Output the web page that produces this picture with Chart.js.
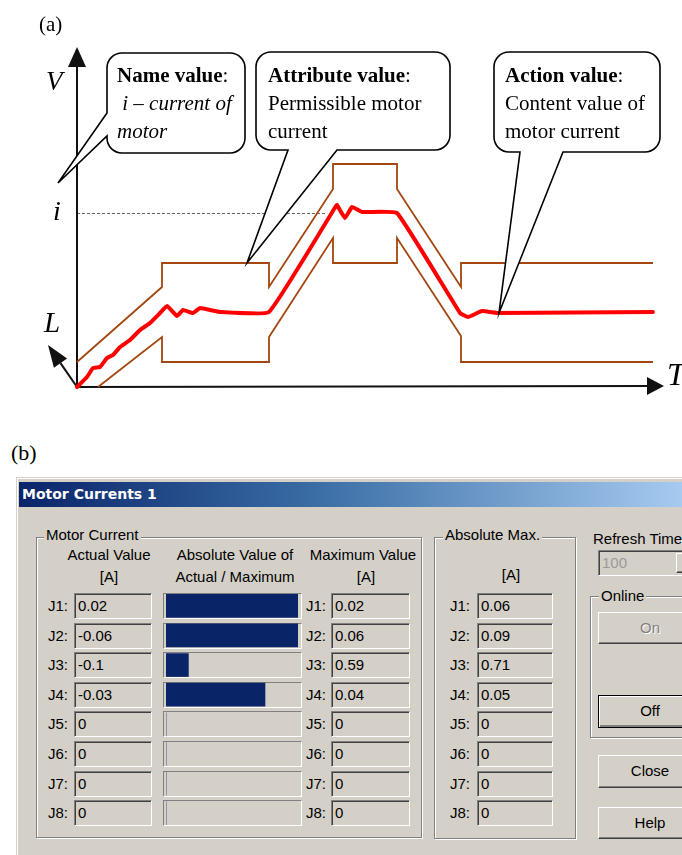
<!DOCTYPE html>
<html>
<head>
<meta charset="utf-8">
<title>Motor current monitoring</title>
<script src="https://cdn.jsdelivr.net/npm/chart.js@4.4.0/dist/chart.umd.min.js"></script>
<style>
  body { margin: 0; width: 682px; height: 855px; overflow: hidden; position: relative; background: #fff; }
  #trend { position: absolute; left: 0; top: 0; }
  .tag { position: absolute; font-family: "Liberation Serif", "Times New Roman", serif; font-size: 22px; color: #000; }
  #dialog { position: absolute; left: 16px; top: 477px; width: 700px; height: 400px; background: #d4d0c8;
            border-top: 1px solid #d4d0c8; border-left: 1px solid #d4d0c8; box-shadow: inset 1px 1px 0 #fff; }
  #titlebar { position: absolute; left: 19px; top: 482px; width: 663px; height: 25px;
              background: linear-gradient(to right, #0a246a 0%, #3a6ea5 45%, #a6caf0 100%); }
  #titlebar span { position: absolute; left: 3px; top: 4px; color: #fff; font: bold 14px "DejaVu Sans", Verdana, sans-serif; }
  .ui { position: absolute; font-family: "Liberation Sans", Arial, sans-serif; font-size: 15px; line-height: 18px; color: #000; white-space: nowrap; }
  .center { text-align: center; }
  .group { position: absolute; box-sizing: border-box; border: 1px solid #808080; box-shadow: inset 1px 1px 0 #fff, 1px 1px 0 #fff; }
  .legend { position: absolute; background: #d4d0c8; padding: 0 2px; }
  .edit { position: absolute; box-sizing: border-box; height: 26px; background: #d4d0c8;
          border-top: 1px solid #808080; border-left: 1px solid #808080; border-right: 1px solid #fff; border-bottom: 1px solid #fff;
          box-shadow: inset 1px 1px 0 #404040; padding-left: 3px; line-height: 24px; }
  .track { position: absolute; box-sizing: border-box; height: 26px; width: 139px;
           border-top: 1px solid #808080; border-left: 1px solid #808080; border-right: 1px solid #fff; border-bottom: 1px solid #fff; }
  .btn { position: absolute; box-sizing: border-box; width: 104px; text-align: center; background: #d4d0c8;
         border-top: 1px solid #fff; border-left: 1px solid #fff; border-right: 1px solid #404040; border-bottom: 1px solid #404040;
         box-shadow: inset -1px -1px 0 #808080; }
  .btn.default { border: 1px solid #000; box-shadow: inset 1px 1px 0 #fff, inset -2px -2px 0 #808080; }
  .btn.disabled { color: #808080; text-shadow: 1px 1px 0 #fff; }
  #ratioBars { position: absolute; left: 166px; top: 591px; }
</style>
</head>
<body>
<canvas id="trend" width="682" height="400"></canvas>

<div class="tag" style="left:11px; top:440px;">(b)</div>
<div id="dialog"></div>
<div id="titlebar"><span>Motor Currents 1</span></div>
<div id="panel"></div>
<canvas id="ratioBars" width="132" height="237"></canvas>

<script>
// ---- (a) current trend inside the permissible envelope ----
// T and V in plot units (one unit = 10 px on screen)
const upperT = [0, 8.5, 8.5, 19.2, 19.2, 25.6, 25.6, 32, 32, 38.4, 38.4, 57.6];
const upperV = [2.5, 10.0, 12.4, 12.4, 10.0, 19.8, 22.3, 22.3, 19.8, 10.0, 12.4, 12.4];
const lowerT = [2.1, 8.5, 8.5, 19.2, 19.2, 25.6, 25.6, 32, 32, 38.4, 38.4, 57.6];
const lowerV = [0, 5.0, 2.5, 2.5, 5.0, 14.9, 12.4, 12.4, 14.9, 5.1, 2.5, 2.5];
const currentT = [0, 1.0, 1.6, 2.3, 3.0, 3.6, 4.3, 5.3, 6.3, 7.3, 8.3, 9.0, 10.0, 10.6, 11.6, 12.3, 14.3, 19.2,
                  25.9, 26.0, 26.8, 27.5, 28.5, 32.0, 38.3, 39.1, 40.5, 42.1, 57.6];
const currentV = [0, 1.0, 1.9, 2.0, 2.9, 3.2, 4.0, 4.7, 5.7, 6.4, 7.4, 8.1, 7.1, 7.7, 7.4, 7.9, 7.5, 7.5,
                  18.1, 18.2, 16.9, 18.0, 17.5, 17.4, 7.4, 7.0, 7.6, 7.4, 7.5];
const iLevel = 17.4;
const iGuideEnd = 24.8;

// ---- (b) dialog values ----
const joints = ['J1', 'J2', 'J3', 'J4', 'J5', 'J6', 'J7', 'J8'];
const actualValues = [0.02, -0.06, -0.1, -0.03, 0, 0, 0, 0];
const maximumValues = [0.02, 0.06, 0.59, 0.04, 0, 0, 0, 0];
const absoluteMax = [0.06, 0.09, 0.71, 0.05, 0, 0, 0, 0];
const refreshTime = 100;

const toPoints = (ts, vs) => ts.map((t, i) => ({ x: t, y: vs[i] }));
const serif = '"Liberation Serif", "Times New Roman", serif';
const envelopeColor = '#a3460f';

function drawArrow(ctx, x1, y1, x2, y2, headLen, halfW) {
  const a = Math.atan2(y2 - y1, x2 - x1);
  const bx = x2 - headLen * Math.cos(a), by = y2 - headLen * Math.sin(a);
  ctx.beginPath();
  ctx.moveTo(x1, y1);
  ctx.lineTo(bx, by);
  ctx.stroke();
  ctx.beginPath();
  ctx.moveTo(x2, y2);
  ctx.lineTo(bx + halfW * Math.sin(a), by - halfW * Math.cos(a));
  ctx.lineTo(bx - halfW * Math.sin(a), by + halfW * Math.cos(a));
  ctx.closePath();
  ctx.fill();
}

// rounded speech bubble; tail leaves the bottom or the left side
function drawCallout(ctx, box, tail, lines, textX) {
  const { x, y, w, h, r } = box;
  ctx.beginPath();
  ctx.moveTo(x + r, y);
  ctx.lineTo(x + w - r, y);
  ctx.arcTo(x + w, y, x + w, y + r, r);
  ctx.lineTo(x + w, y + h - r);
  ctx.arcTo(x + w, y + h, x + w - r, y + h, r);
  if (tail.side === 'bottom') {
    ctx.lineTo(tail.b, y + h);
    ctx.lineTo(tail.tipX, tail.tipY);
    ctx.lineTo(tail.a, y + h);
  }
  ctx.lineTo(x + r, y + h);
  ctx.arcTo(x, y + h, x, y + h - r, r);
  if (tail.side === 'left') {
    ctx.lineTo(x, tail.b);
    ctx.lineTo(tail.tipX, tail.tipY);
    ctx.lineTo(x, tail.a);
  }
  ctx.lineTo(x, y + r);
  ctx.arcTo(x, y, x + r, y, r);
  ctx.closePath();
  ctx.fillStyle = '#fff';
  ctx.fill();
  ctx.strokeStyle = '#000';
  ctx.lineWidth = 1.6;
  ctx.stroke();

  ctx.fillStyle = '#000';
  ctx.textBaseline = 'alphabetic';
  const baselines = [82, 110, 138];
  lines.forEach((segs, i) => {
    let cx = textX;
    segs.forEach(s => {
      ctx.font = s.font;
      ctx.fillText(s.text, cx, baselines[i]);
      cx += ctx.measureText(s.text).width;
    });
  });
}

const figureOverlay = {
  id: 'figureOverlay',
  beforeDatasetsDraw(chart) {
    const { ctx, chartArea, scales: { x, y } } = chart;
    const x0 = x.getPixelForValue(0), y0 = y.getPixelForValue(0);
    ctx.save();
    // dashed guide at the i level
    const yi = Math.round(y.getPixelForValue(iLevel)) + 0.5;
    ctx.strokeStyle = '#666';
    ctx.lineWidth = 1;
    ctx.setLineDash([3, 2]);
    ctx.beginPath();
    ctx.moveTo(x0, yi);
    ctx.lineTo(x.getPixelForValue(iGuideEnd), yi);
    ctx.stroke();
    ctx.setLineDash([]);
    // axes
    ctx.strokeStyle = '#111';
    ctx.fillStyle = '#111';
    ctx.lineWidth = 2;
    drawArrow(ctx, x0, y0, x0, chartArea.top, 20, 9);
    drawArrow(ctx, x0, y0, x.getPixelForValue(58.7), y0 - 1, 17, 9);
    drawArrow(ctx, x0, y0, x0 - 29, y0 - 42, 22, 8);
    ctx.restore();
  },
  afterDatasetsDraw(chart) {
    const { ctx, scales: { x, y } } = chart;
    ctx.save();
    ctx.fillStyle = '#000';
    ctx.font = '21px ' + serif;
    ctx.fillText('(a)', 39, 31);
    ctx.font = 'italic 27px ' + serif;
    ctx.fillText('V', 46, 90);
    ctx.font = 'italic 28px ' + serif;
    ctx.fillText('i', 53, 220);
    ctx.font = 'italic 29px ' + serif;
    ctx.fillText('L', 44, 332);
    ctx.font = 'italic 32px ' + serif;
    ctx.fillText('T', 667, 385);

    const bold = 'bold 21px ' + serif, plain = '21px ' + serif, ital = 'italic 21px ' + serif;
    drawCallout(ctx, { x: 107, y: 53, w: 138, h: 100, r: 15 },
      { side: 'left', a: 113, b: 136, tipX: 58, tipY: 183 },
      [[{ text: 'Name value', font: bold }, { text: ':', font: plain }],
       [{ text: ' i – current of', font: ital }],
       [{ text: 'motor', font: ital }]], 117);
    drawCallout(ctx, { x: 256, y: 52, w: 194, h: 98, r: 15 },
      { side: 'bottom', a: 288, b: 337, tipX: x.getPixelForValue(17.0), tipY: y.getPixelForValue(12.4) },
      [[{ text: 'Attribute value', font: bold }, { text: ':', font: plain }],
       [{ text: 'Permissible motor', font: plain }],
       [{ text: 'current', font: plain }]], 268);
    drawCallout(ctx, { x: 494, y: 52, w: 166, h: 100, r: 15 },
      { side: 'bottom', a: 520, b: 563, tipX: x.getPixelForValue(42.2), tipY: y.getPixelForValue(7.4) },
      [[{ text: 'Action value', font: bold }, { text: ':', font: plain }],
       [{ text: 'Content value of', font: plain }],
       [{ text: 'motor current', font: plain }]], 505);
    ctx.restore();
  }
};

new Chart(document.getElementById('trend'), {
  type: 'line',
  data: {
    datasets: [
      { label: 'Upper limit', data: toPoints(upperT, upperV), borderColor: envelopeColor, borderWidth: 1.8, tension: 0, clip: false },
      { label: 'Lower limit', data: toPoints(lowerT, lowerV), borderColor: envelopeColor, borderWidth: 1.8, tension: 0, clip: false },
      { label: 'Motor current', data: toPoints(currentT, currentV), borderColor: '#ff0000', borderWidth: 4,
        tension: 0.1, borderJoinStyle: 'round', borderCapStyle: 'round', clip: false }
    ]
  },
  options: {
    responsive: false,
    animation: false,
    devicePixelRatio: 1,
    layout: { padding: { left: 77, right: 15, top: 47, bottom: 13 } },
    elements: { point: { radius: 0 } },
    scales: {
      x: { type: 'linear', min: 0, max: 59, display: false },
      y: { min: 0, max: 34, display: false }
    },
    plugins: { legend: { display: false }, tooltip: { enabled: false } }
  },
  plugins: [figureOverlay]
});

// ---- (b) dialog layout ----
const panel = document.getElementById('panel');
function add(cls, style, text) {
  const d = document.createElement('div');
  d.className = cls;
  d.setAttribute('style', style);
  if (text !== undefined) d.textContent = text;
  panel.appendChild(d);
  return d;
}

add('group', 'left:36px; top:537px; width:386px; height:301px;');
add('ui legend', 'left:44px; top:526px;', 'Motor Current');
add('group', 'left:434px; top:537px; width:142px; height:302px;');
add('ui legend', 'left:443px; top:526px;', 'Absolute Max.');
add('group', 'left:590px; top:596px; width:120px; height:142px;');
add('ui legend', 'left:599px; top:587px;', 'Online');

add('ui center', 'left:59px; top:546px; width:100px;', 'Actual Value');
add('ui center', 'left:59px; top:568px; width:100px;', '[A]');
add('ui center', 'left:165px; top:546px; width:140px;', 'Absolute Value of');
add('ui center', 'left:165px; top:568px; width:140px;', 'Actual / Maximum');
add('ui center', 'left:307px; top:546px; width:112px;', 'Maximum Value');
add('ui center', 'left:316px; top:568px; width:100px;', '[A]');
add('ui center', 'left:461px; top:566px; width:100px;', '[A]');

const pitch = 29.6;
joints.forEach((j, k) => {
  const top = 593 + pitch * k;
  add('ui', `left:48px; top:${top + 4}px;`, j + ':');
  add('ui edit', `left:74px; top:${top}px; width:78px;`, String(actualValues[k]));
  add('track', `left:163px; top:${top}px;`);
  add('ui', `left:306px; top:${top + 4}px;`, j + ':');
  add('ui edit', `left:331px; top:${top}px; width:79px;`, String(maximumValues[k]));
  add('ui', `left:450px; top:${top + 4}px;`, j + ':');
  add('ui edit', `left:477px; top:${top}px; width:76px;`, String(absoluteMax[k]));
});

add('ui', 'left:593px; top:530px;', 'Refresh Time');
add('ui edit', 'left:598px; top:550px; width:110px; color:#9a9a9a;', String(refreshTime));
add('btn', 'left:676px; top:553px; width:16px; height:20px;');
add('ui btn disabled', 'left:598px; top:612px; height:32px; line-height:29px;', 'On');
add('ui btn default', 'left:598px; top:695px; height:33px; line-height:30px;', 'Off');
add('ui btn', 'left:598px; top:755px; height:33px; line-height:30px;', 'Close');
add('ui btn', 'left:598px; top:807px; height:32px; line-height:30px;', 'Help');

// |actual| / maximum per joint, shown as bar gauges
const ratios = actualValues.map((a, k) => maximumValues[k] ? Math.min(Math.abs(a) / maximumValues[k], 1) : 0);
new Chart(document.getElementById('ratioBars'), {
  type: 'bar',
  data: {
    labels: joints,
    datasets: [{ data: ratios, backgroundColor: '#0a2468', borderWidth: 0, barThickness: 23 }]
  },
  options: {
    indexAxis: 'y',
    responsive: false,
    animation: false,
    devicePixelRatio: 1,
    layout: { padding: 0 },
    scales: {
      x: { min: 0, max: 1, display: false },
      y: { display: false }
    },
    plugins: { legend: { display: false }, tooltip: { enabled: false } }
  }
});
</script>
</body>
</html>
